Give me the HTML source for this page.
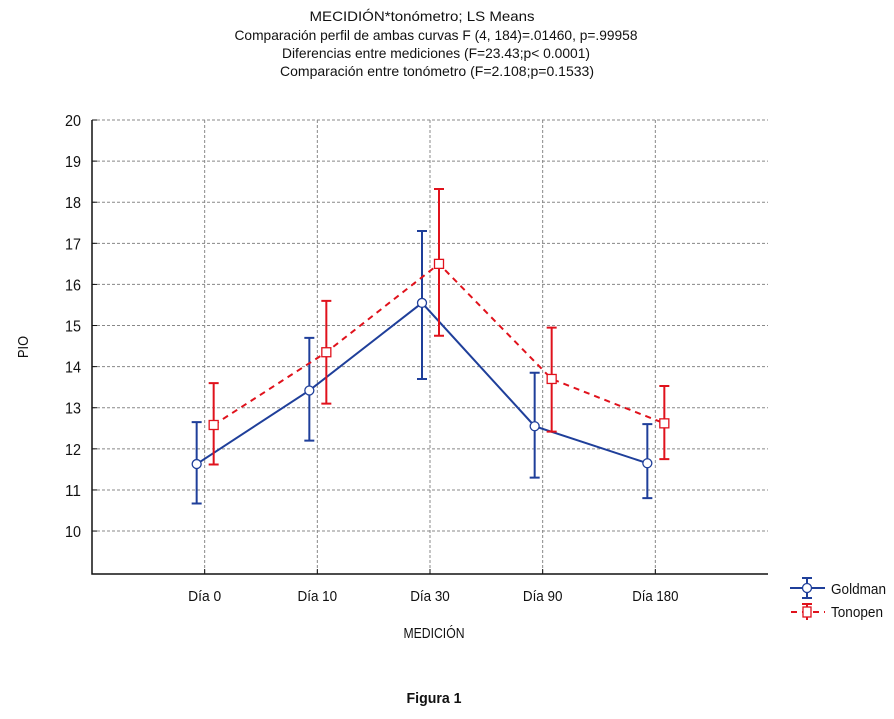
<!DOCTYPE html>
<html><head><meta charset="utf-8"><style>
body{margin:0;background:#fff;}
svg text{font-family:"Liberation Sans Narrow","Liberation Sans",sans-serif;fill:#111;}
</style></head><body>
<svg id="chart" width="894" height="714" xmlns="http://www.w3.org/2000/svg">
<g font-size="14" text-anchor="middle">
<text x="422" y="21" textLength="225" lengthAdjust="spacingAndGlyphs">MECIDIÓN*tonómetro; LS Means</text>
<text x="436" y="40" textLength="403" lengthAdjust="spacingAndGlyphs">Comparación perfil de ambas curvas F (4, 184)=.01460, p=.99958</text>
<text x="436" y="58" textLength="308" lengthAdjust="spacingAndGlyphs">Diferencias entre mediciones (F=23.43;p&lt; 0.0001)</text>
<text x="437" y="76" textLength="314" lengthAdjust="spacingAndGlyphs">Comparación entre tonómetro (F=2.108;p=0.1533)</text>
</g>
<g id="grid"></g>
<g id="axes"></g>
<g id="series"></g>
<text x="28" y="347" font-size="15" text-anchor="middle" transform="rotate(-90 28 347)" textLength="22" lengthAdjust="spacingAndGlyphs">PIO</text>
<text x="434" y="638" font-size="15" text-anchor="middle" textLength="61" lengthAdjust="spacingAndGlyphs">MEDICIÓN</text>
<text x="434" y="703" font-size="15" font-weight="bold" text-anchor="middle" textLength="55" lengthAdjust="spacingAndGlyphs">Figura 1</text>
<g>
<g>
<line x1="790" y1="588" x2="825" y2="588" stroke="#1f3f9a" stroke-width="2"/>
<line x1="807" y1="578" x2="807" y2="598" stroke="#1f3f9a" stroke-width="2"/>
<line x1="802" y1="578" x2="812" y2="578" stroke="#1f3f9a" stroke-width="2"/>
<line x1="802" y1="598" x2="812" y2="598" stroke="#1f3f9a" stroke-width="2"/>
<circle cx="807" cy="588" r="4.5" fill="#fff" stroke="#1f3f9a" stroke-width="1.3"/>
<text x="831" y="594" font-size="15" textLength="55" lengthAdjust="spacingAndGlyphs">Goldman</text>
</g>
<g>
<line x1="791" y1="612" x2="825" y2="612" stroke="#e0121c" stroke-width="2" stroke-dasharray="6,5"/>
<line x1="807" y1="604" x2="807" y2="620" stroke="#e0121c" stroke-width="2"/>
<line x1="802" y1="604" x2="812" y2="604" stroke="#e0121c" stroke-width="2"/>
<rect x="803" y="607" width="8" height="10" fill="#fff" stroke="#e0121c" stroke-width="1.3"/>
<text x="831" y="617" font-size="15" textLength="52" lengthAdjust="spacingAndGlyphs">Tonopen</text>
</g>
</g>
</svg>
<script>
const categories=["Día 0","Día 10","Día 30","Día 90","Día 180"];
const goldmanMean=[11.63,13.42,15.55,12.55,11.65];
const goldmanLow=[10.67,12.2,13.7,11.3,10.8];
const goldmanHigh=[12.65,14.7,17.3,13.85,12.6];
const tonopenMean=[12.58,14.35,16.5,13.7,12.62];
const tonopenLow=[11.62,13.1,14.75,12.42,11.75];
const tonopenHigh=[13.6,15.6,18.32,14.95,13.53];
const yTicks=[10,11,12,13,14,15,16,17,18,19,20];

const NS="http://www.w3.org/2000/svg";
const L=92,R=768,T=120,B=574;
const yMin=8.955,yMax=20;
function y(v){return T+(yMax-v)*(B-T)/(yMax-yMin);}
function x(i){return L+(R-L)*(i+1)/(categories.length+1);}
function mk(tag,attrs,parent){const e=document.createElementNS(NS,tag);for(const k in attrs)e.setAttribute(k,attrs[k]);parent.appendChild(e);return e;}
const grid=document.getElementById('grid'),axes=document.getElementById('axes'),series=document.getElementById('series');
yTicks.forEach(t=>{
  const g=mk('line',{x1:L,x2:R,y1:y(t),y2:y(t),stroke:'#888','stroke-width':1,'stroke-dasharray':'3,2'},grid);
  
  
  const tk=mk('line',{x1:L,x2:L+5,y1:y(t),y2:y(t),stroke:'#111'},axes);
  
  
  const tx=mk('text',{x:L-11,y:y(t)+6,'font-size':16,'text-anchor':'end',textLength:String(t).length*8,lengthAdjust:'spacingAndGlyphs'},axes);
  tx.textContent=t;
  
  
});
categories.forEach((c,i)=>{
  const g=mk('line',{x1:x(i),x2:x(i),y1:T,y2:B,stroke:'#888','stroke-width':1,'stroke-dasharray':'3,2'},grid);
  
  
  const tk=mk('line',{x1:x(i),x2:x(i),y1:B,y2:B-5,stroke:'#111'},axes);
  
  
  const tx=mk('text',{x:x(i),y:B+27,'font-size':15,'text-anchor':'middle',textLength:c.length*6.6,lengthAdjust:'spacingAndGlyphs'},axes);
  tx.textContent=c;
  
  
});
const ax=mk('path',{d:`M${L},${T} L${L},${B} L${R},${B}`,fill:'none',stroke:'#111','stroke-width':1.5},axes);



function drawSeries(name,mean,lo,hi,off,color,dash,marker){
  const g=mk('g',{},series);
  
  
  const pts=mean.map((v,i)=>`${x(i)+off},${y(v)}`).join(' ');
  const ln=mk('polyline',{points:pts,fill:'none',stroke:color,'stroke-width':2,'stroke-dasharray':dash},g);
  
  
  mean.forEach((v,i)=>{
    const cx=x(i)+off;
    const eb=mk('path',{d:`M${cx},${y(lo[i])} L${cx},${y(hi[i])} M${cx-5},${y(lo[i])} L${cx+5},${y(lo[i])} M${cx-5},${y(hi[i])} L${cx+5},${y(hi[i])}`,stroke:color,'stroke-width':2,fill:'none'},g);
    
    
    let m;
    if(marker==='circle') m=mk('circle',{cx:cx,cy:y(v),r:4.5,fill:'#fff',stroke:color,'stroke-width':1.3},g);
    else m=mk('rect',{x:cx-4.5,y:y(v)-4.5,width:9,height:9,fill:'#fff',stroke:color,'stroke-width':1.3},g);
    
    
  });
}
drawSeries('goldman',goldmanMean,goldmanLow,goldmanHigh,-8,'#1f3f9a','none','circle');
drawSeries('tonopen',tonopenMean,tonopenLow,tonopenHigh,9,'#e0121c','6,5','square');
</script>
</body></html>
